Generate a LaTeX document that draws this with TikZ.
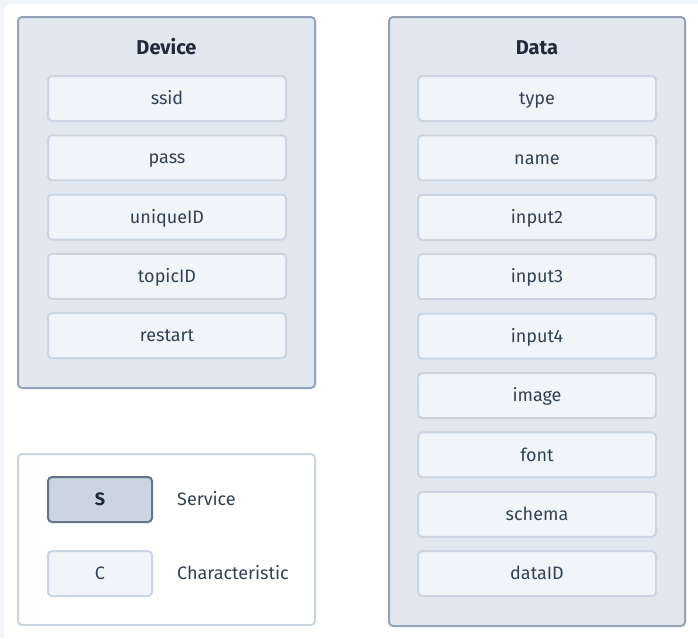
\documentclass[tikz,border=0pt]{standalone}
\usepackage{fontspec}
\setmainfont{Fira Sans}
\usepackage{tikz}
\usetikzlibrary{positioning}

\definecolor{pagegray}{HTML}{F1F5F9}
\definecolor{groupfill}{HTML}{E2E8F0}
\definecolor{groupline}{HTML}{94A3B8}
\definecolor{itemfill}{HTML}{F1F5F9}
\definecolor{itemline}{HTML}{CBD5E1}
\definecolor{servfill}{HTML}{CBD5E1}
\definecolor{servline}{HTML}{64748B}
\definecolor{titletext}{HTML}{1E293B}
\definecolor{itemtext}{HTML}{334155}

\tikzset{
  group/.style={draw=groupline, fill=groupfill, line width=2pt, rounded corners=4pt},
  charbox/.style={draw=itemline, fill=itemfill, line width=2pt, rounded corners=4pt,
    minimum width=238pt, minimum height=45pt, inner sep=0pt,
    text height=12.4pt, text depth=0pt,
    text=itemtext, font=\fontsize{18}{20}\selectfont},
  grouptitle/.style={text=titletext, font=\fontsize{20}{22}\selectfont\bfseries,
    text height=13.8pt, text depth=0pt, inner sep=0pt},
  legendtext/.style={text=itemtext, font=\fontsize{18}{20}\selectfont, anchor=west,
    text height=12.4pt, text depth=0pt, inner sep=0pt}
}

\begin{document}
\begin{tikzpicture}[x=1pt,y=-1pt]
    \useasboundingbox (0,0) rectangle (698,638);
    \fill[pagegray] (0,0) rectangle (698,638);
    \fill[white, rounded corners=6pt] (4,4) rectangle (710,650);
    % device service
    \draw[group] (18,17) rectangle (315,388);
    \node[grouptitle] (devtitle) at (166.5,47.5) {Device};
    \foreach \name [count=\i from 0] in {ssid,pass,uniqueID,topicID,restart}
      \node[charbox] (dev\i) at (167,{98.5+59.25*\i}) {\name};
    % data service
    \draw[group] (389,17) rectangle (685,626);
    \node[grouptitle] (datatitle) at (537,47.5) {Data};
    \foreach \name [count=\i from 0] in {type,name,input2,input3,input4,image,font,schema,dataID}
      \node[charbox] (data\i) at (537,{98.5+59.4*\i}) {\name};
    % legend
    \draw[draw=itemline, fill=white, line width=2pt, rounded corners=4pt] (18,454) rectangle (315,625);
    \node[charbox, minimum width=104pt, fill=servfill, draw=servline, text=titletext,
      font=\fontsize{18}{20}\selectfont\bfseries] (keyS) at (100,499.5) {S};
    \node[charbox, minimum width=104pt] (keyC) at (100,573.5) {C};
    \node[legendtext] (keySlabel) at (177,499.5) {Service};
    \node[legendtext] (keyClabel) at (177,573.5) {Characteristic};
\end{tikzpicture}
\end{document}
